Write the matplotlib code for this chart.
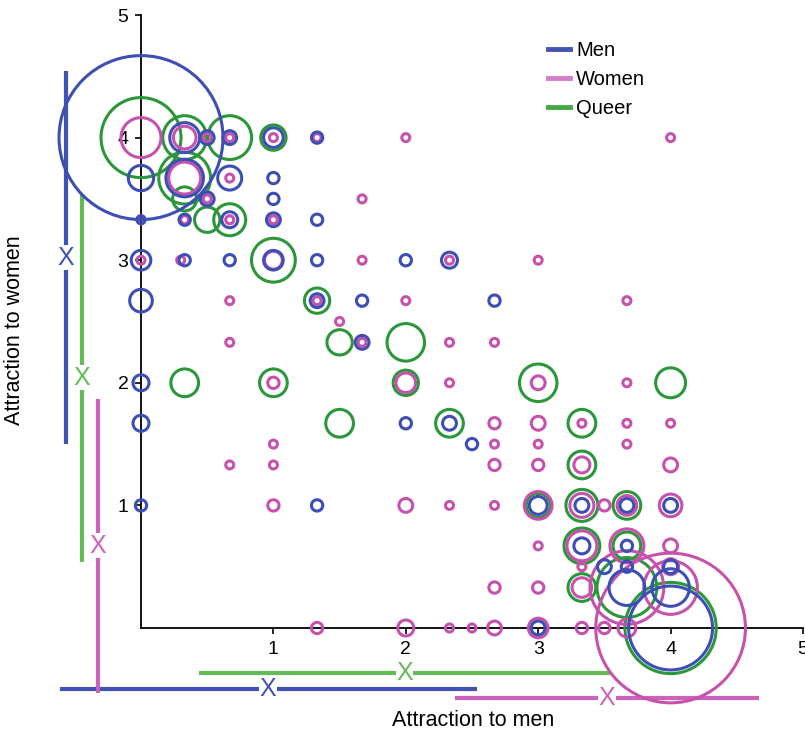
import numpy as np
import matplotlib
matplotlib.use("Agg")
import matplotlib.pyplot as plt
from matplotlib.lines import Line2D

plt.rcParams['font.family'] = ['Liberation Sans', 'DejaVu Sans']

# ---- bubble data: (attraction to men, attraction to women, count) ----
men_x = [0, 0.33, 0.5, 0.67, 1, 1.33,
         0, 0.33, 0.67, 1, 0.5, 1,
         0, 0.33, 0.67, 1, 1.33,
         0, 0.33, 0.67, 1, 1.33, 2, 2.33,
         0, 1.33, 1.67, 2.67, 1.67,
         0, 0, 2, 2.33, 2.5,
         0, 1.33, 3, 3.33, 3.67, 4,
         3.33, 3.67, 3.5, 3.67, 4,
         3.67, 4, 3, 4]
men_y = [4, 4, 4, 4, 4, 4,
         3.67, 3.67, 3.67, 3.67, 3.5, 3.5,
         3.33, 3.33, 3.33, 3.33, 3.33,
         3, 3, 3, 3, 3, 3, 3,
         2.67, 2.67, 2.67, 2.67, 2.33,
         2, 1.67, 1.67, 1.67, 1.5,
         1, 1, 1, 1, 1, 1,
         0.67, 0.67, 0.5, 0.5, 0.5,
         0.33, 0.33, 0, 0]
men_n = [420, 14, 3, 3, 6, 2,
         10, 22, 9, 2, 3, 2,
         1, 2, 4, 3, 2,
         6, 2, 2, 6, 2, 2, 4,
         8, 3, 2, 2, 3,
         4, 4, 2, 3, 2,
         2, 2, 5, 3, 3, 3,
         4, 2, 3, 2, 3,
         20, 22, 3, 110]

women_x = [0, 0.33, 0.5, 0.67, 1, 1.33, 2, 4,
           0.33, 0.67, 0.5, 1.67,
           0, 0.33, 0.67, 1,
           0, 0.3, 1, 1.67, 2.33, 3,
           0.67, 1.33, 2, 3.67, 1.5,
           0.67, 1.67, 2.33, 2.67,
           1, 2, 2.33, 3, 3.67,
           2.67, 3, 3.33, 3.67, 4,
           1, 2.67, 3, 3.67,
           0.67, 1, 2.67, 3, 3.33, 4,
           1, 2, 2.33, 2.67, 3, 3.33, 3.5, 3.67, 4,
           3, 3.33, 3.67, 4, 3.33, 4,
           2.67, 3, 3.33, 3.67, 4,
           1.33, 2, 2.33, 2.5, 2.67, 3, 3.33, 3.5, 3.67, 4]
women_y = [4, 4, 4, 4, 4, 4, 4, 4,
           3.67, 3.67, 3.5, 3.5,
           3.33, 3.33, 3.33, 3.33,
           3, 3, 3, 3, 3, 3,
           2.67, 2.67, 2.67, 2.67, 2.5,
           2.33, 2.33, 2.33, 2.33,
           2, 2, 2, 2, 2,
           1.67, 1.67, 1.67, 1.67, 1.67,
           1.5, 1.5, 1.5, 1.5,
           1.33, 1.33, 1.33, 1.33, 1.33, 1.33,
           1, 1, 1, 1, 1, 1, 1, 1, 1,
           0.67, 0.67, 0.67, 0.67, 0.5, 0.5,
           0.33, 0.33, 0.33, 0.33, 0.33,
           0, 0, 0, 0, 0, 0, 0, 0, 0, 0]
women_n = [25, 8, 1, 1, 1, 1, 1, 1,
           16, 1, 1, 1,
           1, 1, 1, 1,
           1, 1, 5, 1, 1, 1,
           1, 1, 1, 1, 1,
           1, 1, 1, 1,
           2, 6, 1, 3, 1,
           2, 3, 1, 1, 1,
           1, 1, 1, 1,
           1, 1, 2, 2, 4, 3,
           2, 3, 1, 1, 12, 9, 2, 6, 8,
           1, 14, 18, 3, 1, 4,
           2, 2, 6, 85, 45,
           2, 4, 1, 1, 3, 6, 2, 2, 5, 350]

queer_x = [0, 0.33, 0.67, 1,
           0.33, 0.33, 0.5, 0.67,
           1, 1.33, 1.5, 2,
           0.33, 1, 2, 3, 4,
           1.5, 2.33, 3.33, 3.33,
           3, 3.33, 3.67,
           3.33, 3.67, 3.33, 3.67, 4]
queer_y = [4, 4, 4, 4,
           3.67, 3.5, 3.33, 3.33,
           3, 2.67, 2.33, 2.33,
           2, 2, 2, 2, 2,
           1.67, 1.67, 1.67, 1.33,
           1, 1, 1,
           0.67, 0.67, 0.33, 0.33, 0]
queer_n = [100, 30, 30, 10,
           42, 9, 10, 16,
           30, 10, 10, 22,
           12, 12, 10, 22, 14,
           12, 12, 12, 12,
           9, 16, 12,
           20, 12, 12, 56, 130]

# ---- group means and standard deviations ----
groups = ["Men", "Women", "Queer"]
mean_men_axis = [0.96, 3.52, 1.99]
sd_men_axis = [1.575, 1.15, 1.55]
mean_women_axis = [3.02, 0.67, 2.04]
sd_women_axis = [1.52, 1.2, 1.5]

ring_colors = {"Men": "#3d4eb4", "Women": "#c652ad", "Queer": "#2b963a"}
bar_colors = {"Men": "#4152b6", "Women": "#cc62b9", "Queer": "#64bb58"}
legend_colors = {"Men": "#4353b3", "Women": "#d57dc8", "Queer": "#47a744"}

DPI = 100
W, H = 805, 734
fig = plt.figure(figsize=(W / DPI, H / DPI), dpi=DPI)
ax = fig.add_axes([141 / W, 106 / H, 662 / W, 613 / H])
ax.set_xlim(0, 5)
ax.set_ylim(0, 5)

R0 = 4.0  # bubble radius in pixels for a count of one


def sizes(n):
    r = R0 * np.sqrt(np.asarray(n, dtype=float))
    return (2 * r * 72 / DPI) ** 2


series = [("Queer", queer_x, queer_y, queer_n),
          ("Women", women_x, women_y, women_n),
          ("Men", men_x, men_y, men_n)]
for z, (name, xs, ys, ns) in enumerate(series):
    ax.scatter(xs, ys, s=sizes(ns), facecolors="none",
               edgecolors=ring_colors[name], linewidths=2.2,
               clip_on=False, zorder=3 + z)

# axes styling
for side in ("top", "right"):
    ax.spines[side].set_visible(False)
for side in ("left", "bottom"):
    ax.spines[side].set_linewidth(1.3)
    ax.spines[side].set_zorder(2)
ax.set_xticks([1, 2, 3, 4, 5])
ax.set_yticks([1, 2, 3, 4, 5])
ax.tick_params(axis="both", length=4, width=1.2, direction="out",
               labelsize=14, pad=5)

# mean +/- SD bars outside the plotting area
px_x = 1 / 132.4   # data units per pixel along x
px_y = 1 / 122.6   # data units per pixel along y
vert_offset = {"Men": -75 * px_x, "Queer": -59 * px_x, "Women": -43 * px_x}
horz_offset = {"Queer": -45 * px_y, "Men": -61 * px_y, "Women": -70 * px_y}

for i, g in enumerate(groups):
    c = bar_colors[g]
    # horizontal bar: attraction to men
    yo = horz_offset[g]
    m, s = mean_men_axis[i], sd_men_axis[i]
    ax.plot([m - s, m + s], [yo, yo], color=c, lw=3, clip_on=False,
            solid_capstyle="butt", zorder=1)
    ax.text(m, yo, "X", color=c, fontsize=18, ha="center", va="center",
            clip_on=False, zorder=1.5,
            bbox=dict(facecolor="white", edgecolor="none", pad=0.3))
    # vertical bar: attraction to women
    xo = vert_offset[g]
    m, s = mean_women_axis[i], sd_women_axis[i]
    ax.plot([xo, xo], [m - s, m + s], color=c, lw=3, clip_on=False,
            solid_capstyle="butt", zorder=1)
    ax.text(xo, m, "X", color=c, fontsize=18, ha="center", va="center",
            clip_on=False, zorder=1.5,
            bbox=dict(facecolor="white", edgecolor="none", pad=0.3))

# legend
handles = [Line2D([0], [0], color=legend_colors[g], lw=3.5) for g in groups]
ax.legend(handles, groups, loc="upper left", bbox_to_anchor=(0.615, 0.958),
          frameon=False, fontsize=14.5, handlelength=1.1, handletextpad=0.3,
          labelspacing=0.5, borderpad=0, borderaxespad=0)

fig.text(473 / W, 1 - 720 / H, "Attraction to men", fontsize=15.5,
         ha="center", va="center")
fig.text(15 / W, 1 - 330 / H, "Attraction to women", fontsize=15.5,
         ha="center", va="center", rotation=90)

fig.savefig("out.png", dpi=DPI)
